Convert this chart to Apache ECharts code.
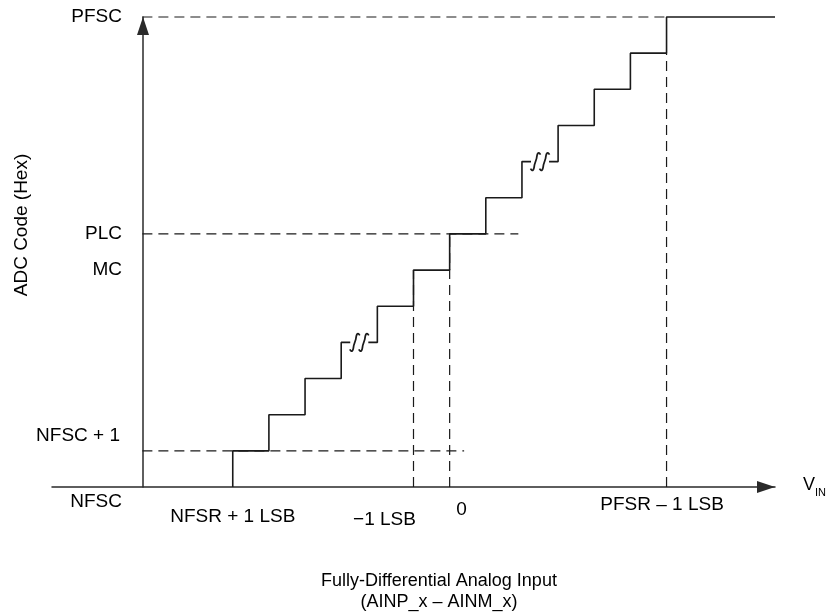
<!DOCTYPE html>
<html>
<head>
<meta charset="utf-8">
<script src="https://cdn.jsdelivr.net/npm/echarts@6/dist/echarts.min.js"></script>
<style>
  html, body { margin: 0; padding: 0; background: #fff; }
  #chart { width: 828px; height: 613px; }
</style>
</head>
<body>
<div id="chart"></div>
<script>
// x: analog input in LSB (0 = zero input), y: output code counted from NFSC
const stepInputs = [-6, -5, -4, -3, -2, -1, 0, 1, 2, 3, 4, 5, 6];
const stepCodes = [1, 2, 3, 4, 5, 6, 7, 8, 9, 10, 11, 12, 13];
const lastInput = 9;

// the two "∫∫" breaks in the staircase
const breakInputs = [-2.5, 2.5];
const breakCodes = [4, 9];
const breakHalf = 0.25;

// dashed guide lines
const guideCodes = [13, 7, 1];
const guideEnds = [6, 1.9, 0.4];
const dropInputs = [-1, 0, 6];
const dropCodes = [6, 7, 12];
const yAxisInput = -8.5;

const xTickValues = [-6, -1, 0, 6];
const xTickLabels = ['NFSR + 1 LSB', '\u22121 LSB', '0', 'PFSR \u2013 1 LSB'];
const yTickValues = [0, 1, 6, 7, 13];
const yTickLabels = ['NFSC', 'NFSC + 1', 'MC', 'PLC', 'PFSC'];

const FONT = '"Liberation Sans", Arial, sans-serif';
const INK = '#1a1a1a';

const chart = echarts.init(document.getElementById('chart'));

// staircase points, with a gap where a break mark sits
const stair = [];
stepInputs.forEach((x, i) => {
  const code = stepCodes[i];
  stair.push([x, i ? stepCodes[i - 1] : 0], [x, code]);
  const b = breakInputs.indexOf(x + 0.5);
  if (b >= 0) {
    stair.push([breakInputs[b] - breakHalf, code], [breakInputs[b], null], [breakInputs[b] + breakHalf, code]);
  }
});
stair.push([lastInput, stepCodes[stepCodes.length - 1]]);

const dashed = { color: INK, width: 1.2, type: [10, 6] };
const guideSeries = guideCodes.map((c, i) => ({
  type: 'line', data: [[yAxisInput, c], [guideEnds[i], c]],
  showSymbol: false, silent: true, clip: false, z: 1, lineStyle: dashed
})).concat(dropInputs.map((x, i) => ({
  type: 'line', data: [[x, 0], [x, dropCodes[i]]],
  showSymbol: false, silent: true, clip: false, z: 1, lineStyle: dashed
})));

function label(size, extra) {
  return Object.assign({ fontSize: size, fontFamily: FONT, color: '#000' }, extra);
}

chart.setOption({
  animation: false,
  textStyle: { fontFamily: FONT },
  grid: { left: 52, right: 53, top: 17, bottom: 126, outerBoundsMode: 'none' },
  xAxis: {
    type: 'value', min: -11, max: 9, interval: 1,
    axisLine: {
      onZero: true, lineStyle: { color: '#2a2a2a', width: 1.5 },
      symbol: ['none', 'triangle'], symbolSize: [12, 18], symbolOffset: [0, -9]
    },
    axisTick: { show: false },
    splitLine: { show: false },
    axisLabel: {
      showMinLabel: true, showMaxLabel: true, margin: 8,
      formatter: (v) => {
        const i = xTickValues.indexOf(v);
        return i < 0 ? '' : '{x' + i + '|' + xTickLabels[i] + '}';
      },
      rich: {
        x0: label(19, { padding: [12, 0, 0, 0] }),
        x1: label(19, { padding: [15, 58, 0, 0] }),
        x2: label(19, { padding: [5, 0, 0, 24] }),
        x3: label(19, { padding: [0, 9, 0, 0] })
      }
    },
    name: '{v|V}{s|IN}', nameLocation: 'end', nameGap: 28,
    nameTextStyle: {
      rich: {
        v: label(18, { verticalAlign: 'bottom', padding: [0, 0, 4, 0] }),
        s: label(11, { verticalAlign: 'bottom' })
      }
    }
  },
  yAxis: {
    type: 'value', min: 0, max: 13, interval: 1, offset: -91,
    axisLine: {
      show: true, onZero: false, lineStyle: { color: '#2a2a2a', width: 1.5 },
      symbol: ['none', 'triangle'], symbolSize: [12, 18], symbolOffset: [0, -9]
    },
    axisTick: { show: false },
    splitLine: { show: false },
    axisLabel: {
      showMinLabel: true, showMaxLabel: true, margin: 21,
      formatter: (v) => {
        const i = yTickValues.indexOf(v);
        return i < 0 ? '' : '{y' + i + '|' + yTickLabels[i] + '}';
      },
      rich: {
        y0: label(19, { padding: [30, 0, 0, 0] }),
        y1: label(19, { padding: [0, 2, 30, 0] }),
        y2: label(19), y3: label(19), y4: label(19)
      }
    }
  },
  graphic: [
    {
      type: 'text', x: 22, y: 225, rotation: Math.PI / 2,
      style: { text: 'ADC Code (Hex)', align: 'center', verticalAlign: 'middle', fontSize: 19, fontFamily: FONT, fill: '#000' }
    },
    {
      type: 'text', x: 439, y: 592,
      style: {
        text: 'Fully-Differential Analog Input\n(AINP_x \u2013 AINM_x)',
        align: 'center', verticalAlign: 'middle', lineHeight: 21, fontSize: 18, fontFamily: FONT, fill: '#000'
      }
    }
  ],
  series: guideSeries.concat([
    {
      type: 'line', data: stair, showSymbol: false, connectNulls: false, clip: false, z: 3,
      lineStyle: { color: INK, width: 1.6 }
    },
    {
      type: 'custom', z: 4, clip: false,
      data: breakInputs.map((x, i) => [x, breakCodes[i]]),
      renderItem: (params, api) => {
        const p = api.coord([api.value(0), api.value(1)]);
        let d = '';
        [-4.5, 4.5].forEach((dx) => {
          const a = p[0] + dx, b = p[1];
          d += 'M' + (a - 5) + ' ' + (b + 7) + ' Q' + (a - 2) + ' ' + (b + 12) + ' ' + (a - 1) + ' ' + (b + 3) +
               ' L' + (a + 1) + ' ' + (b - 3) + ' Q' + (a + 2) + ' ' + (b - 12) + ' ' + (a + 5) + ' ' + (b - 7) + ' ';
        });
        return { type: 'path', shape: { pathData: d }, style: { fill: 'none', stroke: INK, lineWidth: 1.7 } };
      }
    }
  ])
});
</script>
</body>
</html>
